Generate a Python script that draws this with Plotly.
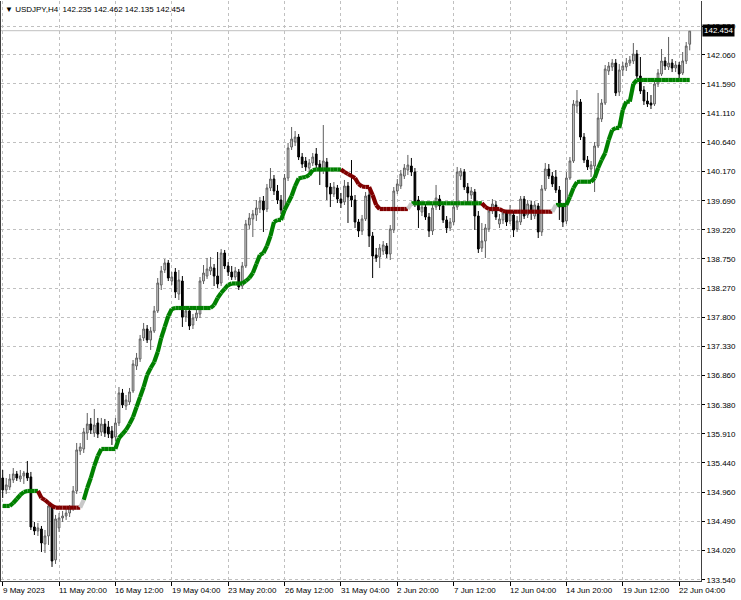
import plotly.graph_objects as go

# ---------------- data (USDJPY H4, bars left to right) ----------------
opens = [135.194,135.000,135.048,135.162,135.259,135.178,135.227,135.275,135.211,134.399,
         134.334,134.366,134.123,134.253,134.724,133.864,134.383,134.545,134.577,134.626,
         134.707,134.983,135.632,135.665,135.925,136.070,135.925,136.087,135.941,136.070,
         136.022,135.957,135.860,136.087,136.574,136.363,136.428,136.606,137.012,137.125,
         137.466,137.612,137.434,137.580,137.905,138.327,138.570,138.684,138.391,138.537,
         138.180,138.391,137.807,137.905,137.677,137.791,137.856,138.391,138.472,138.554,
         138.602,138.472,138.359,138.846,138.635,138.537,138.456,138.537,138.310,138.635,
         139.300,139.398,139.463,139.560,139.690,139.560,139.901,140.047,139.852,139.706,
         139.560,140.063,140.566,140.647,140.728,140.404,140.339,140.225,140.307,140.453,
         140.290,140.193,140.323,139.917,139.803,139.901,139.722,139.674,139.933,139.771,
         139.706,139.349,139.203,139.398,139.787,139.122,138.814,138.781,138.878,138.959,
         138.830,139.219,139.852,139.933,140.095,140.193,140.258,140.160,139.706,139.511,
         139.592,139.430,139.203,139.592,139.722,139.609,139.382,139.252,139.349,139.592,
         140.095,140.160,139.917,139.787,139.836,139.446,138.927,139.040,139.235,139.527,
         139.625,139.317,139.382,139.495,139.365,139.463,139.235,139.349,139.722,139.463,
         139.625,139.446,139.609,139.187,139.885,140.209,140.095,140.079,139.868,139.592,
         139.365,140.063,140.339,141.232,141.297,140.728,140.355,140.209,140.258,140.582,
         141.021,141.280,141.800,141.865,141.929,141.459,141.816,141.865,141.929,141.962,
         142.076,141.718,141.491,141.313,141.280,141.264,141.589,141.751,141.962,141.865,
         141.929,141.848,141.897,141.767,141.962,142.235]
highs = [135.324,135.194,135.259,135.356,135.308,135.324,135.308,135.470,135.292,134.480,
         134.464,134.415,134.350,134.805,134.772,134.594,134.626,134.659,134.691,134.756,
         135.064,135.762,135.762,136.006,136.249,136.168,136.314,136.168,136.168,136.152,
         136.119,136.038,136.168,136.671,136.639,136.541,136.655,137.109,137.223,137.515,
         137.710,137.677,137.645,137.986,138.440,138.635,138.748,138.732,138.537,138.602,
         138.570,138.472,137.986,137.953,137.856,137.937,138.456,138.651,138.765,138.781,
         138.667,138.862,138.911,138.895,138.700,138.635,138.619,138.586,138.700,139.382,
         139.495,139.544,139.706,139.755,139.771,139.966,140.225,140.112,139.950,139.787,
         140.128,140.631,140.891,140.826,140.777,140.469,140.404,140.371,140.469,140.550,
         140.355,140.923,140.388,139.982,139.998,139.950,139.820,140.031,139.998,140.355,
         139.787,139.398,139.463,139.836,139.868,139.187,138.927,138.992,139.040,139.008,
         139.300,139.917,140.047,140.193,140.290,140.437,140.388,140.225,139.771,139.657,
         139.641,139.495,139.641,139.950,139.787,139.657,139.446,139.414,139.657,140.242,
         140.225,140.209,139.982,139.917,139.885,139.527,139.333,139.317,139.592,139.722,
         139.690,139.479,139.560,139.544,139.625,139.527,139.446,139.771,139.771,139.706,
         139.690,139.690,139.657,139.950,140.307,140.290,140.160,140.193,139.933,139.641,
         140.160,140.404,141.329,141.491,141.345,140.793,140.420,140.339,140.647,141.443,
         141.345,141.897,141.946,141.994,141.994,141.913,141.946,142.011,142.043,142.254,
         142.141,142.027,141.556,141.459,141.410,141.654,141.832,142.157,142.027,142.352,
         141.994,141.962,141.946,142.108,142.270,142.462]
lows = [134.870,134.935,135.000,135.113,135.146,135.129,135.097,135.146,134.350,134.269,
        134.253,133.993,133.977,134.107,133.750,133.799,134.318,134.480,134.513,134.561,
        134.659,134.935,135.568,135.600,135.811,135.908,135.860,135.843,135.876,135.860,
        135.843,135.730,135.795,136.038,136.330,136.298,136.379,136.574,136.947,137.077,
        137.418,137.385,137.272,137.548,137.872,138.245,138.521,138.391,138.327,138.115,
        138.083,137.645,137.726,137.596,137.612,137.742,137.791,138.343,138.424,138.489,
        138.310,138.278,138.310,138.586,138.472,138.408,138.408,138.245,138.262,138.602,
        139.235,139.105,139.365,139.495,139.187,139.511,139.852,139.787,139.641,139.479,
        139.511,140.014,140.518,140.582,140.355,140.225,140.177,140.160,140.258,140.225,
        139.950,140.128,139.706,139.592,139.755,139.657,139.576,139.625,139.333,139.592,
        139.252,139.105,139.138,139.365,138.943,138.440,138.700,138.602,138.814,138.765,
        138.732,139.170,139.803,139.885,140.047,140.112,140.095,139.592,139.252,139.446,
        139.382,139.105,139.138,139.544,139.544,139.333,139.170,139.203,139.300,139.544,
        140.031,139.868,139.625,139.722,139.219,138.846,138.862,138.765,139.187,139.479,
        139.382,139.252,139.317,139.284,139.317,139.105,139.187,139.300,139.398,139.414,
        139.382,139.398,139.089,139.122,139.852,140.047,139.917,139.820,139.382,139.268,
        139.317,140.031,140.307,141.118,140.680,140.307,140.193,140.079,139.836,140.550,
        140.972,141.248,141.735,141.800,141.394,141.394,141.718,141.800,141.881,141.913,
        141.670,141.427,141.248,141.215,141.183,141.232,141.540,141.718,141.816,141.816,
        141.783,141.783,141.686,141.735,141.913,142.135]
closes = [135.000,135.081,135.178,135.259,135.194,135.227,135.275,135.194,134.399,134.334,
          134.383,134.139,134.253,134.740,133.847,134.529,134.545,134.577,134.626,134.707,
          134.983,135.649,135.697,135.941,136.070,135.973,136.054,135.908,136.070,135.925,
          135.908,135.843,136.087,136.574,136.379,136.460,136.590,137.044,137.142,137.450,
          137.612,137.434,137.580,137.905,138.359,138.554,138.684,138.440,138.456,138.213,
          138.408,137.807,137.905,137.661,137.791,137.872,138.391,138.521,138.586,138.619,
          138.472,138.343,138.846,138.635,138.537,138.456,138.554,138.294,138.635,139.317,
          139.414,139.479,139.576,139.690,139.544,139.901,140.047,139.852,139.706,139.544,
          140.063,140.550,140.696,140.728,140.404,140.290,140.242,140.307,140.404,140.274,
          140.193,140.339,139.917,139.803,139.917,139.722,139.657,139.933,139.755,139.706,
          139.349,139.203,139.398,139.771,139.122,138.797,138.765,138.927,138.976,138.830,
          139.235,139.852,139.966,140.128,140.225,140.274,140.160,139.657,139.544,139.592,
          139.430,139.203,139.576,139.739,139.609,139.382,139.252,139.349,139.592,140.160,
          140.177,139.917,139.820,139.852,139.446,138.911,139.040,139.252,139.527,139.641,
          139.430,139.398,139.495,139.349,139.479,139.219,139.365,139.722,139.446,139.641,
          139.511,139.625,139.187,139.885,140.209,140.095,139.966,139.868,139.592,139.349,
          140.063,140.339,141.264,141.313,140.728,140.355,140.242,140.274,140.582,141.037,
          141.280,141.832,141.881,141.929,141.443,141.816,141.881,141.929,141.978,142.076,
          141.718,141.475,141.313,141.264,141.248,141.589,141.767,141.962,141.881,141.929,
          141.848,141.897,141.751,141.962,142.205,142.454]

# indicator line value per bar and its trend (1 = up / green, 0 = down / red)
line_vals = [134.740,134.740,134.740,134.788,134.853,134.918,134.967,134.983,134.983,134.983,
             134.983,134.870,134.837,134.788,134.740,134.712,134.712,134.712,134.712,134.712,
             134.712,134.712,134.712,134.837,135.032,135.194,135.389,135.551,135.665,135.665,
             135.665,135.665,135.665,135.843,135.908,135.973,136.070,136.184,136.346,136.509,
             136.671,136.866,136.979,137.077,137.239,137.466,137.645,137.823,137.937,137.953,
             137.953,137.953,137.953,137.953,137.953,137.953,137.953,137.953,137.953,137.953,
             138.002,138.115,138.197,138.262,138.327,138.351,138.351,138.351,138.351,138.391,
             138.440,138.521,138.667,138.814,138.846,138.959,139.122,139.349,139.382,139.382,
             139.544,139.657,139.771,139.933,140.055,140.071,140.079,140.112,140.193,140.201,
             140.201,140.201,140.201,140.201,140.201,140.201,140.201,140.160,140.128,140.095,
             140.063,139.966,139.925,139.917,139.917,139.787,139.625,139.560,139.560,139.560,
             139.560,139.560,139.560,139.560,139.560,139.560,139.653,139.653,139.653,139.653,
             139.653,139.653,139.653,139.653,139.653,139.653,139.653,139.653,139.653,139.653,
             139.653,139.653,139.653,139.653,139.653,139.653,139.653,139.592,139.560,139.560,
             139.560,139.560,139.527,139.516,139.516,139.516,139.516,139.516,139.516,139.516,
             139.516,139.516,139.516,139.516,139.516,139.516,139.516,139.625,139.625,139.625,
             139.625,139.755,139.901,139.998,140.003,140.003,140.003,140.003,140.063,140.225,
             140.355,140.469,140.680,140.842,140.875,140.875,141.167,141.302,141.302,141.589,
             141.654,141.654,141.654,141.654,141.654,141.654,141.654,141.654,141.654,141.654,
             141.654,141.654,141.654,141.654,141.654,141.654]
trend = [1]*11 + [0]*12 + [1]*74 + [0]*19 + [1]*21 + [0]*20 + [1]*39

x_tick_idx = [0, 16, 32, 48, 64, 80, 96, 112, 128, 144, 160, 176, 192]
x_tick_labels = ["9 May 2023", "11 May 20:00", "16 May 12:00", "19 May 04:00", "23 May 20:00",
                 "26 May 12:00", "31 May 04:00", "2 Jun 20:00", "7 Jun 12:00", "12 Jun 04:00",
                 "14 Jun 20:00", "19 Jun 12:00", "22 Jun 04:00"]
y_tick_vals = [142.530, 142.060, 141.590, 141.110, 140.640, 140.170, 139.690, 139.220, 138.750,
               138.270, 137.800, 137.330, 136.860, 136.380, 135.910, 135.440, 134.960, 134.490,
               134.020, 133.540]
symbol = "USDJPY,H4"
last_ohlc = [142.235, 142.462, 142.135, 142.454]

# ---------------- figure ----------------
FONT = "Liberation Sans, Arial, sans-serif"
N = len(closes)
xs = list(range(N))

fig = go.Figure()

fig.add_trace(go.Candlestick(
    x=xs, open=opens, high=highs, low=lows, close=closes,
    increasing=dict(line=dict(color="#5e5e5e", width=1), fillcolor="#dcdcdc"),
    decreasing=dict(line=dict(color="#000000", width=1), fillcolor="#000000"),
    whiskerwidth=0, hoverinfo="skip", showlegend=False))

# indicator line split by colour
seg = {"#008000": ([], []), "#800000": ([], []), "#c8c8c8": ([], [])}
for i in range(N - 1):
    if trend[i] == trend[i + 1]:
        c = "#008000" if trend[i] == 1 else "#800000"
    elif trend[i] == 0 and trend[i + 1] == 1:
        c = "#c8c8c8"
    else:
        c = "#800000"
    seg[c][0].extend([xs[i], xs[i + 1], None])
    seg[c][1].extend([line_vals[i], line_vals[i + 1], None])
for c, (sx, sy) in seg.items():
    fig.add_trace(go.Scatter(x=sx, y=sy, mode="lines",
                             line=dict(color=c, width=4.2),
                             hoverinfo="skip", showlegend=False, connectgaps=False))

# bid line
fig.add_shape(type="line", xref="paper", x0=0, x1=1, yref="y",
              y0=last_ohlc[3], y1=last_ohlc[3], line=dict(color="#c0c0c0", width=1))

# x labels (left aligned at ticks, MT4 style)
for xi, lab in zip(x_tick_idx, x_tick_labels):
    fig.add_annotation(x=xi, xref="x", y=0, yref="paper", yanchor="top", xanchor="left",
                       yshift=-3, xshift=-2, text=lab, showarrow=False,
                       font=dict(family=FONT, size=8, color="#000000"))

# last price marker
fig.add_annotation(x=1, xref="paper", y=last_ohlc[3], yref="y", xanchor="left",
                   yanchor="middle", xshift=1, text=f"{last_ohlc[3]:.3f}", showarrow=False,
                   bgcolor="#000000", font=dict(family=FONT, size=8, color="#ffffff"),
                   borderpad=1)

# header text
fig.add_annotation(x=0, xref="paper", y=1, yref="paper", xanchor="left", yanchor="top",
                   xshift=2, yshift=-2,
                   text="\u25BC " + symbol + "  " + " ".join(f"{v:.3f}" for v in last_ohlc),
                   showarrow=False, font=dict(family=FONT, size=8, color="#000000"))

fig.update_layout(
    width=741, height=600,
    margin=dict(l=1, r=40, t=1, b=19),
    paper_bgcolor="#ffffff", plot_bgcolor="#ffffff",
    showlegend=False,
    font=dict(family=FONT, size=8, color="#000000"),
    xaxis=dict(range=[-0.48, 198.2], rangeslider=dict(visible=False),
               tickvals=x_tick_idx, showticklabels=False, ticks="outside", ticklen=4,
               tickcolor="#000000", showgrid=True, gridcolor="#c0c0c0", griddash="3px,3px",
               gridwidth=1, showline=True, linecolor="#404040", linewidth=1, mirror=False,
               zeroline=False, fixedrange=True),
    yaxis=dict(range=[133.522, 142.936], side="right", tickvals=y_tick_vals,
               ticktext=[f"{v:.3f}" for v in y_tick_vals], ticks="outside", ticklen=3,
               tickcolor="#000000", showgrid=True, gridcolor="#c0c0c0", griddash="3px,3px",
               gridwidth=1, showline=True, linecolor="#404040", linewidth=1, mirror=True,
               zeroline=False, fixedrange=True, tickfont=dict(family=FONT, size=8)),
)

fig.write_html("out.html", config={"displayModeBar": False, "staticPlot": True},
               post_script="document.body.style.margin='0';document.body.style.padding='0';")
